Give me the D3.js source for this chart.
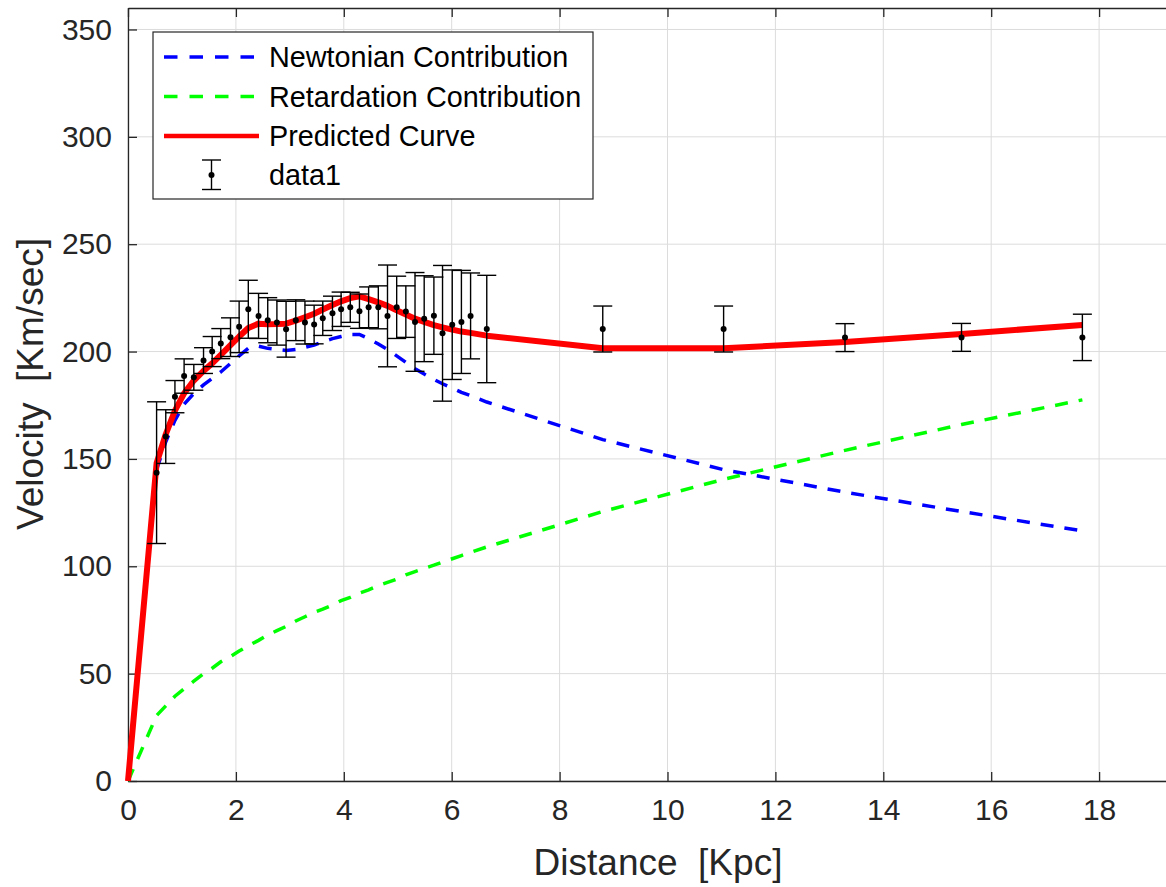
<!DOCTYPE html>
<html>
<head>
<meta charset="utf-8">
<script src="https://cdn.jsdelivr.net/npm/d3@7"></script>
<style>
  html, body { margin: 0; padding: 0; background: #fff; }
  svg { display: block; font-family: "Liberation Sans", Arial, Helvetica, sans-serif; }
  .pre { white-space: pre; }
</style>
</head>
<body>
<svg id="chart" width="1166" height="887"></svg>
<script>
// ---- data ----
const curveX = [0, 0.53, 0.70, 0.87, 1.04, 1.22, 1.40, 1.56, 1.72, 1.90, 2.06, 2.23, 2.42, 2.59, 2.76, 2.93,
  3.11, 3.28, 3.45, 3.61, 3.79, 3.95, 4.12, 4.29, 4.46, 4.64, 4.81, 4.98, 5.15, 5.32, 5.49, 5.67, 5.83,
  6.01, 6.18, 6.35, 6.65, 8.80, 11.04, 13.29, 15.45, 17.69];
const newtonian = [0, 145, 158, 168, 175.5, 180.5, 184.5, 187.5, 190.5, 194.5, 198, 201.5, 202.5, 201.5, 201, 200.5,
  201, 202, 203, 204.5, 206, 207, 208, 208, 206, 203.5, 201, 198, 195, 192, 189.5, 187, 185,
  183, 181, 179.5, 176.5, 159, 145, 134.5, 125.5, 116.5];
const retardation = [0, 30.5, 35, 39.5, 43, 46.5, 50, 52.5, 55.5, 58, 60.5, 63, 65.5, 68, 70, 72,
  74.5, 76.5, 78.5, 80, 82, 84, 85.5, 87.5, 89, 91, 92.5, 94, 96, 97.5, 99, 100.5, 102,
  103.5, 105, 106.5, 109, 125.5, 140.5, 154, 166, 177.5];
const predicted = [0, 148, 161.5, 172.5, 180.5, 186.5, 191, 194.5, 198.5, 203, 207, 211, 213, 212.7, 212.8, 213,
  214.4, 216, 217.6, 219.6, 221.7, 223.4, 224.9, 225.7, 224.4, 222.9, 221.3, 219.2, 217.3, 215.3, 213.8, 212.3, 211.3,
  210.2, 209.3, 208.7, 207.4, 201.5, 201.5, 204.5, 208.2, 212.4];

const obsX = [0.53, 0.70, 0.87, 1.04, 1.22, 1.40, 1.56, 1.72, 1.90, 2.06, 2.23, 2.42, 2.59, 2.76, 2.93,
  3.11, 3.28, 3.45, 3.61, 3.79, 3.95, 4.12, 4.29, 4.46, 4.64, 4.81, 4.98, 5.15, 5.32, 5.49, 5.67, 5.83,
  6.01, 6.18, 6.35, 6.65, 8.80, 11.04, 13.29, 15.45, 17.69];
const obsV = [143.6, 160.4, 179, 188.6, 188, 195.8, 200, 203.7, 206.7, 211.5, 219.7, 216.6, 214.6, 213.5, 210.4,
  214.6, 213.5, 212.6, 215.5, 217.8, 219.7, 220.6, 218.8, 220.6, 220.6, 216.6, 220.6, 218.6, 213.8, 215.3, 216.7, 208.5,
  212.5, 213.8, 216.6, 210.5, 210.5, 210.5, 206.5, 206.6, 206.6];
const obsErr = [33, 12.5, 7.5, 8, 6, 6, 7, 7, 9, 12, 13.5, 10.5, 10.5, 10.5, 13,
  9.5, 10, 9, 8, 8, 8, 7, 8, 9.5, 10, 23.7, 14.5, 12, 23, 20, 18, 31.6,
  25.5, 24, 20, 25, 10.7, 10.7, 6.5, 6.5, 10.8];

const xTicks = [0, 2, 4, 6, 8, 10, 12, 14, 16, 18];
const yTicks = [0, 50, 100, 150, 200, 250, 300, 350];
const legendLabels = ["Newtonian Contribution", "Retardation Contribution", "Predicted Curve", "data1"];
const xLabel = "Distance  [Kpc]";
const yLabel = "Velocity  [Km/sec]";

// ---- layout ----
const svg = d3.select("#chart");
const L = 128, R = 1207, T = 8, B = 781;
const x = d3.scaleLinear().domain([0, 20]).range([L, R]);
const y = d3.scaleLinear().domain([0, 360]).range([B, T]);
const axisColor = "#262626";
const tickFont = 30;

// grid
const grid = svg.append("g");
grid.selectAll("line.gx").data(xTicks).join("line")
  .attr("x1", d => x(d)).attr("x2", d => x(d)).attr("y1", T).attr("y2", B)
  .attr("stroke", "#dcdcdc").attr("stroke-width", 1);
grid.selectAll("line.gy").data(yTicks).join("line")
  .attr("x1", L).attr("x2", R).attr("y1", d => y(d)).attr("y2", d => y(d))
  .attr("stroke", "#dcdcdc").attr("stroke-width", 1);

// axes (MATLAB style: inward ticks, box)
const xAxisB = d3.axisBottom(x).tickValues(xTicks).tickSizeInner(-9).tickSizeOuter(0).tickPadding(18).tickFormat(d3.format("d"));
const xAxisT = d3.axisTop(x).tickValues(xTicks).tickSizeInner(-9).tickSizeOuter(0).tickFormat("");
const yAxisL = d3.axisLeft(y).tickValues(yTicks).tickSizeInner(-9).tickSizeOuter(0).tickPadding(16).tickFormat(d3.format("d"));

function styleAxis(g) {
  g.select(".domain").attr("stroke", axisColor).attr("stroke-width", 1.3);
  g.selectAll(".tick line").attr("stroke", axisColor).attr("stroke-width", 1.3);
  g.selectAll(".tick text").attr("fill", axisColor).attr("font-size", tickFont)
    .attr("font-family", "'Liberation Sans', Arial, sans-serif");
}
svg.append("g").attr("transform", `translate(0,${B})`).call(xAxisB).call(styleAxis);
svg.append("g").attr("transform", `translate(0,${T})`).call(xAxisT).call(styleAxis);
svg.append("g").attr("transform", `translate(${L},0)`).call(yAxisL).call(styleAxis);

// curves
const line = d3.line().x(d => x(d[0])).y(d => y(d[1]));
const pts = vals => curveX.map((cx, i) => [cx, vals[i]]);

svg.append("path").datum(pts(newtonian)).attr("d", line)
  .attr("fill", "none").attr("stroke", "#0000ff").attr("stroke-width", 3.5).attr("stroke-dasharray", "13,11");
svg.append("path").datum(pts(retardation)).attr("d", line)
  .attr("fill", "none").attr("stroke", "#00ff00").attr("stroke-width", 3.5).attr("stroke-dasharray", "13,11");

// error bars
const eb = svg.append("g");
const obs = obsX.map((ox, i) => ({ x: ox, v: obsV[i], e: obsErr[i] }));
const cap = 9.5;
eb.selectAll("line.v").data(obs).join("line")
  .attr("x1", d => x(d.x)).attr("x2", d => x(d.x))
  .attr("y1", d => y(d.v - d.e)).attr("y2", d => y(d.v + d.e))
  .attr("stroke", "#000").attr("stroke-width", 1.4);
eb.selectAll("line.t").data(obs).join("line")
  .attr("x1", d => x(d.x) - cap).attr("x2", d => x(d.x) + cap)
  .attr("y1", d => y(d.v + d.e)).attr("y2", d => y(d.v + d.e))
  .attr("stroke", "#000").attr("stroke-width", 1.4);
eb.selectAll("line.b").data(obs).join("line")
  .attr("x1", d => x(d.x) - cap).attr("x2", d => x(d.x) + cap)
  .attr("y1", d => y(d.v - d.e)).attr("y2", d => y(d.v - d.e))
  .attr("stroke", "#000").attr("stroke-width", 1.4);

svg.append("path").datum(pts(predicted)).attr("d", line)
  .attr("fill", "none").attr("stroke", "#ff0000").attr("stroke-width", 6).attr("stroke-linejoin", "round");

eb.raise();
eb.selectAll("circle").data(obs).join("circle")
  .attr("cx", d => x(d.x)).attr("cy", d => y(d.v)).attr("r", 3).attr("fill", "#000");

// axis labels
svg.append("text").attr("class", "pre").attr("x", 658).attr("y", 875).attr("text-anchor", "middle")
  .attr("font-size", 37).attr("fill", axisColor).text(xLabel);
svg.append("text").attr("class", "pre").attr("transform", "translate(43,384) rotate(-90)").attr("text-anchor", "middle")
  .attr("font-size", 37).attr("fill", axisColor).text(yLabel);

// legend
const lg = svg.append("g");
lg.append("rect").attr("x", 153).attr("y", 32).attr("width", 440).attr("height", 167)
  .attr("fill", "#fff").attr("stroke", axisColor).attr("stroke-width", 1.2);
const rowY = [57, 96.5, 136, 175];
const lx1 = 164, lx2 = 258, tx = 269;
lg.append("line").attr("x1", lx1).attr("x2", lx2).attr("y1", rowY[0]).attr("y2", rowY[0])
  .attr("stroke", "#0000ff").attr("stroke-width", 3.5).attr("stroke-dasharray", "13.5,12");
lg.append("line").attr("x1", lx1).attr("x2", lx2).attr("y1", rowY[1]).attr("y2", rowY[1])
  .attr("stroke", "#00ff00").attr("stroke-width", 3.5).attr("stroke-dasharray", "13.5,12");
lg.append("line").attr("x1", lx1).attr("x2", lx2 + 1).attr("y1", rowY[2]).attr("y2", rowY[2])
  .attr("stroke", "#ff0000").attr("stroke-width", 4.5);
const ex = 211.5;
lg.append("line").attr("x1", ex).attr("x2", ex).attr("y1", 160).attr("y2", 189.5).attr("stroke", "#000").attr("stroke-width", 1.4);
lg.append("line").attr("x1", ex - 9.5).attr("x2", ex + 9.5).attr("y1", 160).attr("y2", 160).attr("stroke", "#000").attr("stroke-width", 1.4);
lg.append("line").attr("x1", ex - 9.5).attr("x2", ex + 9.5).attr("y1", 189.5).attr("y2", 189.5).attr("stroke", "#000").attr("stroke-width", 1.4);
lg.append("circle").attr("cx", ex).attr("cy", 175).attr("r", 3).attr("fill", "#000");
lg.selectAll("text").data(legendLabels).join("text")
  .attr("x", tx).attr("y", (d, i) => rowY[i]).attr("dy", "0.36em")
  .attr("font-size", 28.8).attr("fill", "#000").text(d => d);
</script>
</body>
</html>
